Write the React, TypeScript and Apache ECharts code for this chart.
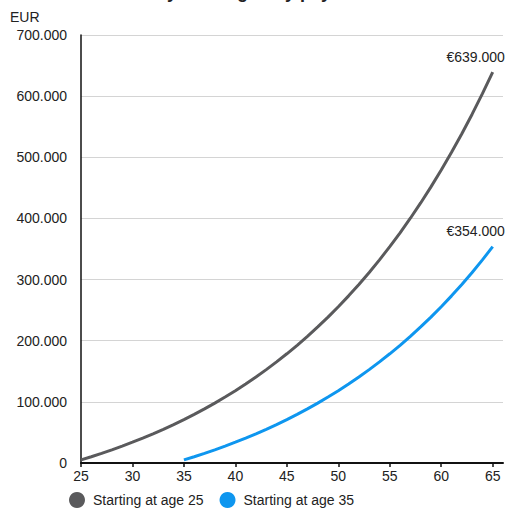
import React, { useEffect, useRef } from "react";
import * as echarts from "echarts";

const titleText = "Why starting early pays off";
const unitLabel = "EUR";
const seriesNames = ["Starting at age 25", "Starting at age 35"];
const seriesColors = ["#5a5a5c", "#0e96ef"];
const xTicks = [25, 30, 35, 40, 45, 50, 55, 60, 65];
const yTicks = [0, 100000, 200000, 300000, 400000, 500000, 600000, 700000];

const agesFrom25 = [
  25, 26, 27, 28, 29, 30, 31, 32, 33, 34, 35, 36, 37, 38, 39, 40, 41, 42, 43, 44, 45,
  46, 47, 48, 49, 50, 51, 52, 53, 54, 55, 56, 57, 58, 59, 60, 61, 62, 63, 64, 65,
];
const valuesFrom25 = [
  5000, 10250, 15763, 21551, 27628, 34010, 40710, 47746, 55133, 62889, 71034,
  79586, 88565, 97993, 107893, 118287, 129202, 140662, 152695, 165330, 178596,
  192526, 207152, 222510, 238635, 255567, 273346, 292013, 311614, 332194, 353804,
  376494, 400319, 425335, 451602, 479182, 508141, 538548, 570475, 603999, 639199,
];
const agesFrom35 = [
  35, 36, 37, 38, 39, 40, 41, 42, 43, 44, 45, 46, 47, 48, 49, 50, 51, 52, 53, 54,
  55, 56, 57, 58, 59, 60, 61, 62, 63, 64, 65,
];
const valuesFrom35 = [
  5000, 10250, 15763, 21551, 27628, 34010, 40710, 47746, 55133, 62889, 71034,
  79586, 88565, 97993, 107893, 118287, 129202, 140662, 152695, 165330, 178596,
  192526, 207152, 222510, 238635, 255567, 273346, 292013, 311614, 332194, 353804,
];
const endLabels = ["€639.000", "€354.000"];

const FONT = "'Liberation Sans', Arial, sans-serif";

function fmtThousands(v: number): string {
  return String(Math.round(v)).replace(/\B(?=(\d{3})+(?!\d))/g, ".");
}

function endMark(ages: number[], values: number[], label: string) {
  const i = ages.length - 1;
  return {
    silent: true,
    symbol: "circle",
    symbolSize: 1,
    itemStyle: { color: "rgba(0,0,0,0)" },
    data: [{ coord: [ages[i], values[i]], value: values[i] }],
    label: {
      show: true,
      formatter: label,
      position: "top",
      distance: 8,
      offset: [-17, 0],
      fontSize: 14,
      color: "#222",
      fontFamily: FONT,
    },
  };
}

export default function App() {
  const ref = useRef<HTMLDivElement>(null);
  useEffect(() => {
    if (!ref.current) return;
    const chart = echarts.init(ref.current, undefined, { renderer: "svg" });
    chart.setOption({
      animation: false,
      backgroundColor: "#ffffff",
      title: {
        text: titleText,
        left: "center",
        top: -22,
        textStyle: { fontSize: 18, fontWeight: "bold", color: "#222", fontFamily: FONT },
      },
      graphic: [
        {
          type: "text",
          left: 10,
          top: 10,
          style: { text: unitLabel, fontSize: 14, fill: "#222", fontFamily: FONT },
        },
      ],
      legend: {
        left: 64,
        top: 487,
        icon: "circle",
        itemWidth: 16,
        itemHeight: 16,
        itemGap: 16,
        textStyle: { fontSize: 14, color: "#222", fontFamily: FONT, padding: [0, 0, 0, 3] },
        data: seriesNames,
      },
      grid: { left: 81, right: 5, top: 35, bottom: 46, containLabel: false },
      xAxis: {
        type: "value",
        min: 25,
        max: 66,
        interval: 5,
        axisLine: { show: true, lineStyle: { color: "#111", width: 2 } },
        axisTick: {
          show: true,
          length: 4,
          lineStyle: { color: "#111", width: 1.5 },
          customValues: xTicks,
        },
        axisLabel: {
          fontSize: 14,
          color: "#222",
          margin: 6,
          fontFamily: FONT,
          customValues: xTicks,
        },
        splitLine: { show: false },
      },
      yAxis: {
        type: "value",
        min: 0,
        max: 700000,
        interval: 100000,
        axisLine: { show: true, lineStyle: { color: "#111", width: 1.5 } },
        axisTick: { show: false },
        axisLabel: {
          fontSize: 14,
          color: "#222",
          margin: 14,
          fontFamily: FONT,
          customValues: yTicks,
          formatter: (v: number) => fmtThousands(v),
        },
        splitLine: { show: true, lineStyle: { color: "#d4d4d4", width: 1 } },
      },
      series: [
        {
          name: seriesNames[0],
          type: "line",
          data: agesFrom25.map((a, i) => [a, valuesFrom25[i]]),
          showSymbol: false,
          symbol: "circle",
          lineStyle: { color: seriesColors[0], width: 3 },
          itemStyle: { color: seriesColors[0] },
          markPoint: endMark(agesFrom25, valuesFrom25, endLabels[0]),
        },
        {
          name: seriesNames[1],
          type: "line",
          data: agesFrom35.map((a, i) => [a, valuesFrom35[i]]),
          showSymbol: false,
          symbol: "circle",
          lineStyle: { color: seriesColors[1], width: 3 },
          itemStyle: { color: seriesColors[1] },
          markPoint: endMark(agesFrom35, valuesFrom35, endLabels[1]),
        },
      ],
    });
    return () => chart.dispose();
  }, []);
  return <div ref={ref} style={{ width: 508, height: 509, position: "absolute", left: 0, top: 0 }} />;
}
